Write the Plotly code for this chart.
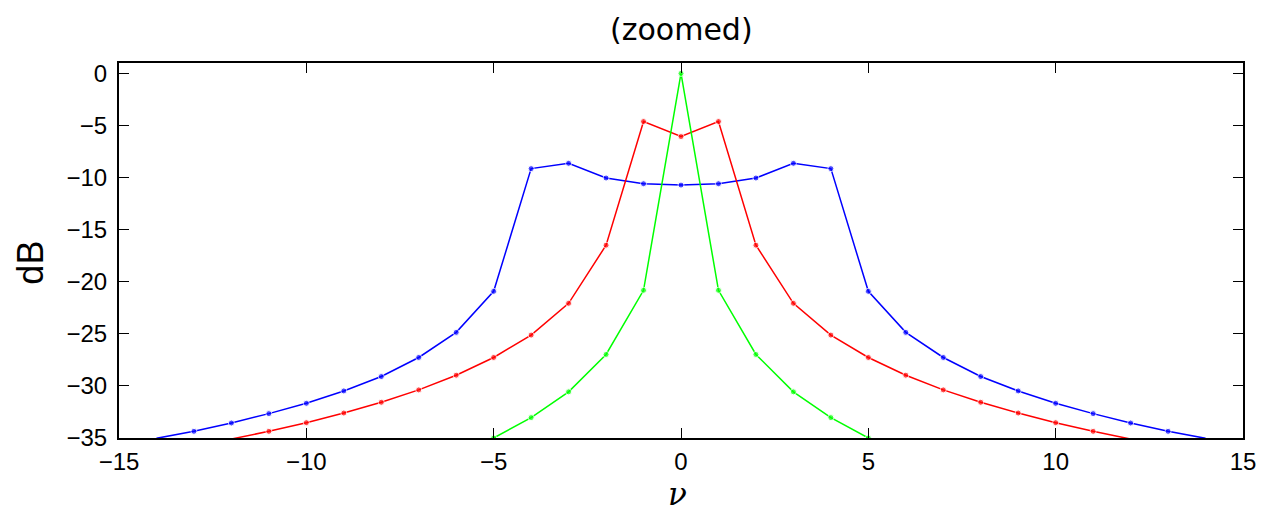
import plotly.graph_objects as go

# Frequency index
nu_blue = list(range(-14, 15))
nu_red = list(range(-12, 13))
nu_green = list(range(-5, 6))

# Spectrum levels in dB (symmetric about nu = 0)
blue_half = [-10.72, -10.59, -10.04, -8.63, -9.14, -20.92, -24.86, -27.27,
             -29.10, -30.48, -31.67, -32.66, -33.56, -34.36, -35.03]
red_half = [-6.06, -4.62, -16.49, -22.07, -25.12, -27.27, -28.97, -30.38,
            -31.57, -32.60, -33.53, -34.36, -35.10]
green_half = [0.0, -20.82, -26.98, -30.57, -33.04, -35.0]


def mirror(half):
    return half[:0:-1] + half


db_blue = mirror(blue_half)
db_red = mirror(red_half)
db_green = mirror(green_half)

x_ticks = [-15, -10, -5, 0, 5, 10, 15]
y_ticks = [-35, -30, -25, -20, -15, -10, -5, 0]


def fmt(v):
    return str(v).replace("-", "\u2212")


fig = go.Figure()
for xs, ys, col in [(nu_blue, db_blue, "#0000ff"),
                    (nu_red, db_red, "#ff0000"),
                    (nu_green, db_green, "#00ff00")]:
    fig.add_trace(go.Scatter(
        x=xs, y=ys, mode="lines+markers",
        line=dict(color=col, width=1.5),
        marker=dict(color=col, size=[6 if v >= -35 else 0 for v in ys]),
        showlegend=False,
    ))

axis_common = dict(
    showline=True, linecolor="black", linewidth=2, mirror="ticks",
    ticks="inside", ticklen=10, tickwidth=1, tickcolor="black",
    showgrid=False, zeroline=False,
    tickfont=dict(family="Liberation Sans, Arial, sans-serif", size=24, color="black"),
)

fig.update_xaxes(range=[-15, 15], tickvals=x_ticks,
                 ticktext=[fmt(v) for v in x_ticks], ticklabelstandoff=1,
                 **axis_common)
fig.update_yaxes(range=[-35, 1], tickvals=y_ticks,
                 ticktext=[fmt(v) for v in y_ticks], ticklabelstandoff=5,
                 **axis_common)

fig.update_layout(
    width=1268, height=513,
    margin=dict(l=119, r=21, t=63, b=75),
    paper_bgcolor="white", plot_bgcolor="white",
    annotations=[
        dict(text="(zoomed)", xref="paper", yref="paper", x=0.5, y=1.088,
             xanchor="center", yanchor="middle", showarrow=False,
             font=dict(family="DejaVu Sans, sans-serif", size=30, color="black")),
        dict(text="dB", xref="paper", yref="paper", x=-0.0785, y=0.467,
             xanchor="center", yanchor="middle", showarrow=False, textangle=-90,
             font=dict(family="Liberation Sans, Arial, sans-serif", size=36, color="black")),
        dict(text="<i>\u03bd</i>", xref="paper", yref="paper", x=0.497, y=-0.2,
             xanchor="center", yanchor="bottom", showarrow=False, borderpad=0,
             font=dict(family="DejaVu Serif, serif", size=31, color="black")),
    ],
)

fig.write_html("out.html")
